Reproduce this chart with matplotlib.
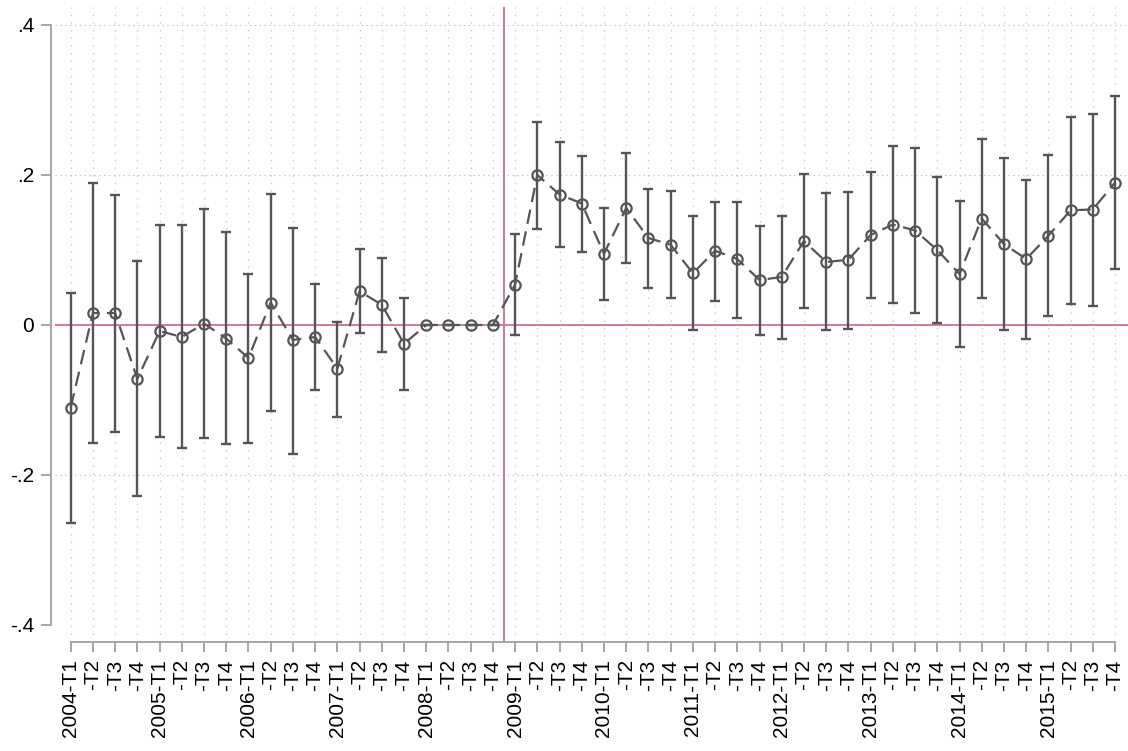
import numpy as np
import matplotlib
matplotlib.use("Agg")
import matplotlib.pyplot as plt

years = ["2004", "2005", "2006", "2007", "2008", "2009", "2010", "2011", "2012", "2013", "2014", "2015"]
quarters = ["T1", "T2", "T3", "T4"]
tick_labels = []
for yr in years:
    for q in quarters:
        tick_labels.append(f"{yr}-{q}" if q == "T1" else f"-{q}")

estimate = [-0.110, 0.016, 0.016, -0.072, -0.008, -0.016, 0.002, -0.018,
            -0.044, 0.030, -0.020, -0.016, -0.058, 0.045, 0.027, -0.025,
            0.0, 0.0, 0.0, 0.0,
            0.054, 0.200, 0.174, 0.162, 0.095, 0.156, 0.116, 0.107,
            0.069, 0.099, 0.088, 0.060, 0.064, 0.112, 0.084, 0.087,
            0.120, 0.134, 0.126, 0.100, 0.068, 0.142, 0.108, 0.088,
            0.119, 0.153, 0.154, 0.190]
ci_upper = [0.043, 0.189, 0.173, 0.085, 0.133, 0.133, 0.155, 0.124,
            0.068, 0.175, 0.130, 0.055, 0.004, 0.102, 0.090, 0.036,
            0.0, 0.0, 0.0, 0.0,
            0.121, 0.271, 0.244, 0.226, 0.156, 0.230, 0.182, 0.179,
            0.146, 0.164, 0.164, 0.132, 0.145, 0.202, 0.176, 0.177,
            0.204, 0.239, 0.236, 0.198, 0.165, 0.248, 0.223, 0.194,
            0.227, 0.278, 0.282, 0.305]
ci_lower = [-0.264, -0.158, -0.143, -0.228, -0.149, -0.164, -0.151, -0.159,
            -0.157, -0.114, -0.172, -0.086, -0.122, -0.011, -0.036, -0.086,
            0.0, 0.0, 0.0, 0.0,
            -0.013, 0.128, 0.104, 0.098, 0.034, 0.083, 0.049, 0.036,
            -0.007, 0.032, 0.010, -0.013, -0.019, 0.023, -0.007, -0.005,
            0.036, 0.029, 0.016, 0.003, -0.029, 0.036, -0.006, -0.018,
            0.012, 0.028, 0.026, 0.075]
y_ticks = [-0.4, -0.2, 0.0, 0.2, 0.4]
y_tick_labels = ["-.4", "-.2", "0", ".2", ".4"]
treatment_break = 19.5

plt.rcParams['font.family'] = ['Liberation Sans', 'DejaVu Sans']
plt.rcParams['lines.scale_dashes'] = False
plt.rcParams['xtick.labelsize'] = 15
plt.rcParams['ytick.labelsize'] = 15

W, H = 1128, 751
fig = plt.figure(figsize=(W / 100, H / 100), dpi=100)
left_px, right_px, top_px, bottom_px = 55, 1128, 7, 642
ax = fig.add_axes([left_px / W, (H - bottom_px) / H, (right_px - left_px) / W, (bottom_px - top_px) / H])

x = np.arange(len(estimate))
est = np.array(estimate)
up = np.array(ci_upper)
lo = np.array(ci_lower)

dark = '#555555'
pink = '#CC79A7'
gridc = '#c4c4c4'
spc = '#a6a6a6'

for s in ['top', 'right']:
    ax.spines[s].set_visible(False)
ax.spines['left'].set_position(('outward', 3))

# dotted grid
for xi in x:
    ax.axvline(xi, color=gridc, lw=0.9, linestyle=(0, (1, 4.5)), zorder=0)
for yt in [-0.2, 0.2, 0.4]:
    ax.axhline(yt, color=gridc, lw=0.9, linestyle=(0, (1, 2.5)), zorder=0)

ax.axhline(0, color=pink, lw=1.4, zorder=1)
ax.axvline(treatment_break, color=pink, lw=1.4, zorder=1)

ax.errorbar(x, est, yerr=[est - lo, up - est], fmt='none', ecolor=dark,
            elinewidth=1.7, capsize=3.3, capthick=1.7, zorder=3)
ax.plot(x, est, color=dark, lw=1.6, dashes=(10.5, 5.5), marker='o',
        markersize=7.4, markerfacecolor='none', markeredgecolor=dark,
        markeredgewidth=1.6, zorder=4)

ax.set_xlim((left_px - 70.7) / 22.22, (right_px - 70.7) / 22.22)
ax.set_ylim((325 - bottom_px) / 750, (325 - top_px) / 750)

ax.spines['left'].set_bounds(-0.4, 0.4)
ax.spines['bottom'].set_bounds(0, len(x) - 1)
for s in ['left', 'bottom']:
    ax.spines[s].set_color(spc)
    ax.spines[s].set_linewidth(1.4)
ax.tick_params(axis='both', color=spc, width=1.4, length=7.5, labelcolor='black')
ax.tick_params(axis='x', pad=5)
ax.tick_params(axis='y', pad=4.5)

ax.set_xticks(x)
ax.set_xticklabels(tick_labels, rotation=90, fontsize=15)
ax.set_yticks(y_ticks)
ax.set_yticklabels(y_tick_labels, fontsize=15)

ax.set_facecolor('white')
fig.patch.set_facecolor('white')

fig.savefig('out.png', dpi=100)
